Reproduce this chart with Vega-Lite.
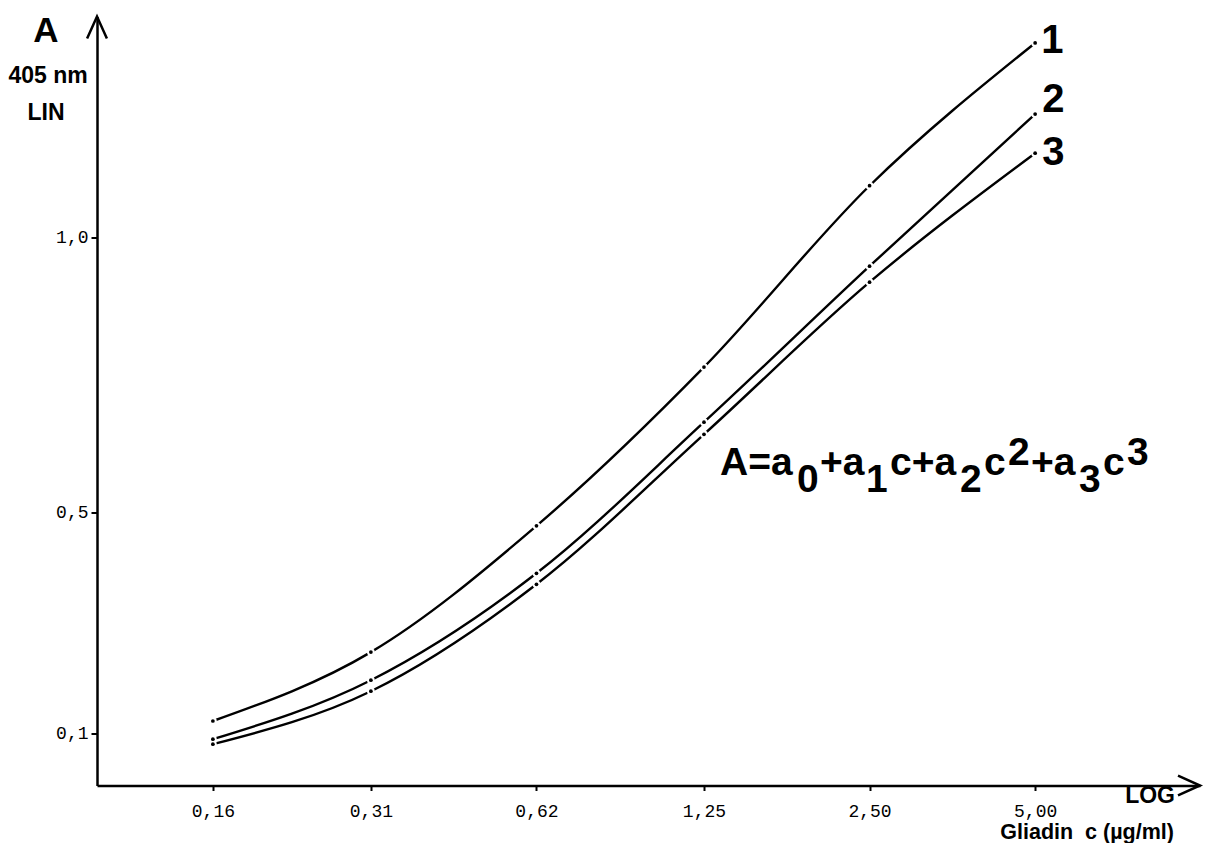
{
  "$schema": "https://vega.github.io/schema/vega-lite/v6.json",
  "width": 1103,
  "height": 769,
  "autosize": {"type": "none"},
  "padding": {"left": 97, "top": 16.5, "right": 5, "bottom": 58},
  "background": "white",
  "config": {"view": {"stroke": null}, "font": "Liberation Sans"},
  "datasets": {
    "curves": [
      {"series": "1", "c": 0.16, "A": 0.122},
      {"series": "1", "c": 0.31, "A": 0.247},
      {"series": "1", "c": 0.62, "A": 0.476},
      {"series": "1", "c": 1.25, "A": 0.764},
      {"series": "1", "c": 2.5, "A": 1.093},
      {"series": "1", "c": 5.0, "A": 1.352},
      {"series": "2", "c": 0.16, "A": 0.089},
      {"series": "2", "c": 0.31, "A": 0.196},
      {"series": "2", "c": 0.62, "A": 0.39},
      {"series": "2", "c": 1.25, "A": 0.664},
      {"series": "2", "c": 2.5, "A": 0.947},
      {"series": "2", "c": 5.0, "A": 1.223},
      {"series": "3", "c": 0.16, "A": 0.08},
      {"series": "3", "c": 0.31, "A": 0.176},
      {"series": "3", "c": 0.62, "A": 0.37},
      {"series": "3", "c": 1.25, "A": 0.642},
      {"series": "3", "c": 2.5, "A": 0.918},
      {"series": "3", "c": 5.0, "A": 1.152}
    ],
    "one": [{"k": 1}]
  },
  "layer": [
    {
      "data": {"name": "curves"},
      "mark": {"type": "line", "interpolate": "monotone", "color": "black", "strokeWidth": 2.4},
      "encoding": {
        "x": {
          "field": "c",
          "type": "quantitative",
          "scale": {"type": "log", "domain": [0.0985, 9.97], "nice": false},
          "axis": {
            "values": [0.16, 0.31, 0.62, 1.25, 2.5, 5],
            "labelExpr": "replace(format(datum.value,'.2f'),'.',',')",
            "title": null,
            "grid": false,
            "domainColor": "black",
            "domainWidth": 2.5,
            "tickColor": "black",
            "tickWidth": 2,
            "tickSize": 5,
            "labelFont": "Liberation Mono",
            "labelFontSize": 18,
            "labelColor": "black",
            "labelPadding": 12,
            "labelFlush": false,
            "labelOverlap": false
          }
        },
        "y": {
          "field": "A",
          "type": "quantitative",
          "scale": {"domain": [0.005, 1.4], "nice": false, "zero": false},
          "axis": {
            "values": [0.1, 0.5, 1.0],
            "labelExpr": "replace(format(datum.value,'.1f'),'.',',')",
            "title": null,
            "grid": false,
            "domainColor": "black",
            "domainWidth": 2.5,
            "tickColor": "black",
            "tickWidth": 2,
            "tickSize": 6,
            "labelFont": "Liberation Mono",
            "labelFontSize": 18,
            "labelColor": "black",
            "labelPadding": 3,
            "labelFlush": false,
            "labelOverlap": false
          }
        },
        "detail": {"field": "series"}
      }
    },
    {
      "data": {"name": "curves"},
      "mark": {"type": "point", "shape": "circle", "filled": true, "color": "white", "size": 60, "opacity": 1},
      "encoding": {"x": {"field": "c", "type": "quantitative"}, "y": {"field": "A", "type": "quantitative"}}
    },
    {
      "data": {"name": "curves"},
      "mark": {"type": "point", "shape": "circle", "filled": true, "color": "black", "size": 14, "opacity": 1},
      "encoding": {"x": {"field": "c", "type": "quantitative"}, "y": {"field": "A", "type": "quantitative"}}
    },
    {
      "data": {"name": "one"},
      "mark": {"type": "point", "shape": "M-0.45,1L0,0L0.45,1", "filled": false, "stroke": "black", "strokeWidth": 2.5, "size": 1936, "opacity": 1},
      "encoding": {"x": {"datum": 0.0985, "type": "quantitative"}, "y": {"datum": 1.4, "type": "quantitative"}}
    },
    {
      "data": {"name": "one"},
      "mark": {"type": "point", "shape": "M-1,-0.45L0,0L-1,0.45", "filled": false, "stroke": "black", "strokeWidth": 2.5, "size": 1936, "opacity": 1},
      "encoding": {"x": {"datum": 9.97, "type": "quantitative"}, "y": {"datum": 0.005, "type": "quantitative"}}
    },
    {
      "data": {"name": "one"},
      "mark": {"type": "text", "text": "A", "fontSize": 35, "fontWeight": "bold", "align": "center", "baseline": "alphabetic", "dx": -51, "color": "black"},
      "encoding": {"x": {"datum": 0.0985, "type": "quantitative"}, "y": {"datum": 1.354, "type": "quantitative"}}
    },
    {
      "data": {"name": "one"},
      "mark": {"type": "text", "text": "405 nm", "fontSize": 23, "fontWeight": "bold", "align": "center", "baseline": "alphabetic", "dx": -49, "color": "black"},
      "encoding": {"x": {"datum": 0.0985, "type": "quantitative"}, "y": {"datum": 1.279, "type": "quantitative"}}
    },
    {
      "data": {"name": "one"},
      "mark": {"type": "text", "text": "LIN", "fontSize": 23, "fontWeight": "bold", "align": "center", "baseline": "alphabetic", "dx": -51, "color": "black"},
      "encoding": {"x": {"datum": 0.0985, "type": "quantitative"}, "y": {"datum": 1.212, "type": "quantitative"}}
    },
    {
      "data": {"name": "one"},
      "mark": {"type": "text", "text": "1", "fontSize": 40, "fontWeight": "bold", "align": "left", "baseline": "alphabetic", "dx": 6, "color": "black"},
      "encoding": {"x": {"datum": 5, "type": "quantitative"}, "y": {"datum": 1.334, "type": "quantitative"}}
    },
    {
      "data": {"name": "one"},
      "mark": {"type": "text", "text": "2", "fontSize": 40, "fontWeight": "bold", "align": "left", "baseline": "alphabetic", "dx": 7, "color": "black"},
      "encoding": {"x": {"datum": 5, "type": "quantitative"}, "y": {"datum": 1.227, "type": "quantitative"}}
    },
    {
      "data": {"name": "one"},
      "mark": {"type": "text", "text": "3", "fontSize": 40, "fontWeight": "bold", "align": "left", "baseline": "alphabetic", "dx": 7, "color": "black"},
      "encoding": {"x": {"datum": 5, "type": "quantitative"}, "y": {"datum": 1.13, "type": "quantitative"}}
    },
    {
      "data": {"name": "one"},
      "mark": {"type": "text", "text": "LOG", "fontSize": 23, "fontWeight": "bold", "align": "right", "baseline": "alphabetic", "color": "black"},
      "encoding": {"x": {"datum": 8.98, "type": "quantitative"}, "y": {"datum": -0.027, "type": "quantitative"}}
    },
    {
      "data": {"name": "one"},
      "mark": {"type": "text", "text": "Gliadin\u00a0 c (µg/ml)", "fontSize": 21.5, "fontWeight": "bold", "align": "right", "baseline": "alphabetic", "color": "black"},
      "encoding": {"x": {"datum": 8.94, "type": "quantitative"}, "y": {"datum": -0.092, "type": "quantitative"}}
    },
    {
      "data": {"name": "one"},
      "mark": {"type": "text", "text": "A=a", "fontSize": 39, "fontWeight": "bold", "align": "left", "baseline": "alphabetic", "dx": 0, "dy": 0, "color": "black"},
      "encoding": {"x": {"datum": 1.337, "type": "quantitative"}, "y": {"datum": 0.568, "type": "quantitative"}}
    },
    {
      "data": {"name": "one"},
      "mark": {"type": "text", "text": "0", "fontSize": 39, "fontWeight": "bold", "align": "left", "baseline": "alphabetic", "dx": 77, "dy": 17, "color": "black"},
      "encoding": {"x": {"datum": 1.337, "type": "quantitative"}, "y": {"datum": 0.568, "type": "quantitative"}}
    },
    {
      "data": {"name": "one"},
      "mark": {"type": "text", "text": "+a", "fontSize": 39, "fontWeight": "bold", "align": "left", "baseline": "alphabetic", "dx": 100, "dy": 0, "color": "black"},
      "encoding": {"x": {"datum": 1.337, "type": "quantitative"}, "y": {"datum": 0.568, "type": "quantitative"}}
    },
    {
      "data": {"name": "one"},
      "mark": {"type": "text", "text": "1", "fontSize": 39, "fontWeight": "bold", "align": "left", "baseline": "alphabetic", "dx": 146, "dy": 17, "color": "black"},
      "encoding": {"x": {"datum": 1.337, "type": "quantitative"}, "y": {"datum": 0.568, "type": "quantitative"}}
    },
    {
      "data": {"name": "one"},
      "mark": {"type": "text", "text": "c+a", "fontSize": 39, "fontWeight": "bold", "align": "left", "baseline": "alphabetic", "dx": 170, "dy": 0, "color": "black"},
      "encoding": {"x": {"datum": 1.337, "type": "quantitative"}, "y": {"datum": 0.568, "type": "quantitative"}}
    },
    {
      "data": {"name": "one"},
      "mark": {"type": "text", "text": "2", "fontSize": 39, "fontWeight": "bold", "align": "left", "baseline": "alphabetic", "dx": 240, "dy": 17, "color": "black"},
      "encoding": {"x": {"datum": 1.337, "type": "quantitative"}, "y": {"datum": 0.568, "type": "quantitative"}}
    },
    {
      "data": {"name": "one"},
      "mark": {"type": "text", "text": "c", "fontSize": 39, "fontWeight": "bold", "align": "left", "baseline": "alphabetic", "dx": 264, "dy": 0, "color": "black"},
      "encoding": {"x": {"datum": 1.337, "type": "quantitative"}, "y": {"datum": 0.568, "type": "quantitative"}}
    },
    {
      "data": {"name": "one"},
      "mark": {"type": "text", "text": "2", "fontSize": 39, "fontWeight": "bold", "align": "left", "baseline": "alphabetic", "dx": 288, "dy": -10, "color": "black"},
      "encoding": {"x": {"datum": 1.337, "type": "quantitative"}, "y": {"datum": 0.568, "type": "quantitative"}}
    },
    {
      "data": {"name": "one"},
      "mark": {"type": "text", "text": "+a", "fontSize": 39, "fontWeight": "bold", "align": "left", "baseline": "alphabetic", "dx": 311, "dy": 0, "color": "black"},
      "encoding": {"x": {"datum": 1.337, "type": "quantitative"}, "y": {"datum": 0.568, "type": "quantitative"}}
    },
    {
      "data": {"name": "one"},
      "mark": {"type": "text", "text": "3", "fontSize": 39, "fontWeight": "bold", "align": "left", "baseline": "alphabetic", "dx": 359, "dy": 17, "color": "black"},
      "encoding": {"x": {"datum": 1.337, "type": "quantitative"}, "y": {"datum": 0.568, "type": "quantitative"}}
    },
    {
      "data": {"name": "one"},
      "mark": {"type": "text", "text": "c", "fontSize": 39, "fontWeight": "bold", "align": "left", "baseline": "alphabetic", "dx": 383, "dy": 0, "color": "black"},
      "encoding": {"x": {"datum": 1.337, "type": "quantitative"}, "y": {"datum": 0.568, "type": "quantitative"}}
    },
    {
      "data": {"name": "one"},
      "mark": {"type": "text", "text": "3", "fontSize": 39, "fontWeight": "bold", "align": "left", "baseline": "alphabetic", "dx": 407, "dy": -10, "color": "black"},
      "encoding": {"x": {"datum": 1.337, "type": "quantitative"}, "y": {"datum": 0.568, "type": "quantitative"}}
    }
  ]
}
